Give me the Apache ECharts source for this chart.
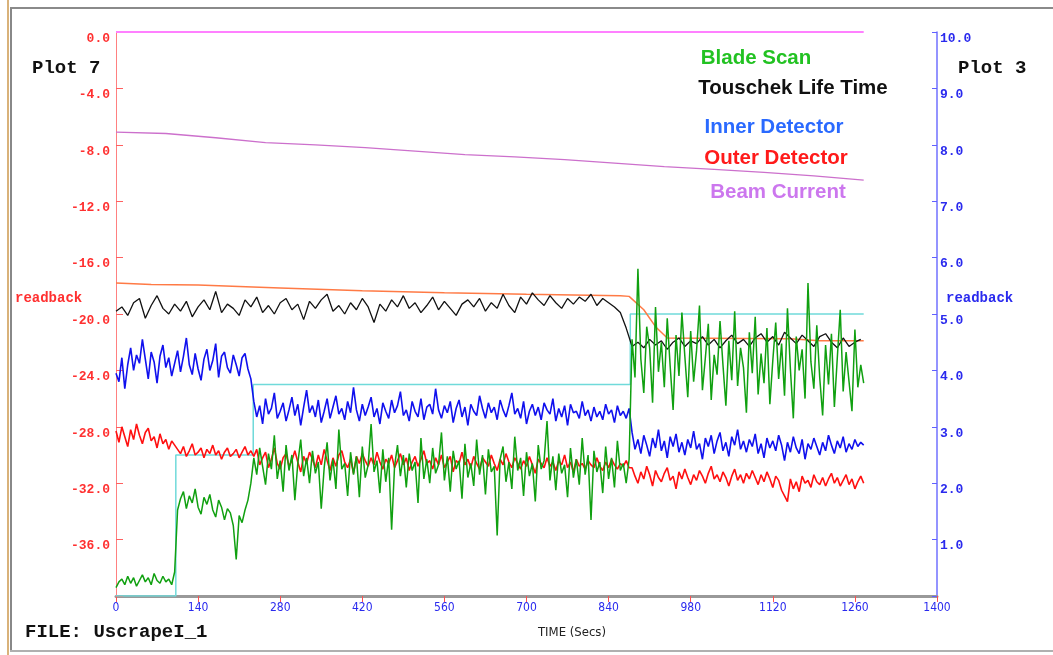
<!DOCTYPE html>
<html>
<head>
<meta charset="utf-8">
<script src="https://cdn.jsdelivr.net/npm/echarts@6/dist/echarts.min.js"></script>
<style>
html,body{margin:0;padding:0;background:#fff;}
#chart{width:1053px;height:655px;}
</style>
</head>
<body>
<div id="chart"></div>
<script>
// ---------- DATA ----------
const xTicks = [0,140,280,420,560,700,840,980,1120,1260,1400];
const leftTicks = [0,-4,-8,-12,-16,-20,-24,-28,-32,-36,-40];
const rightTicks = [0,1,2,3,4,5,6,7,8,9,10];

const detectorStep = 5;   // seconds between detector samples (t = 0 .. 1275)
const touschekStep = 10;  // seconds between Touschek samples (t = 0 .. 1270)

const innerDetector = [
-24.2,-24.8,-23.1,-25.3,-23.6,-22.4,-24.0,-22.9,-23.5,-21.8,-23.2,-24.6,-22.7,-23.4,-24.9,-23.0,-22.2,-23.8,-23.1,-24.4,
-23.5,-22.6,-24.1,-23.0,-21.7,-23.6,-24.3,-22.8,-23.9,-24.7,-23.2,-22.5,-24.0,-23.3,-22.1,-24.5,-23.0,-22.7,-23.8,-24.2,
-22.9,-23.6,-24.4,-23.1,-22.8,-23.9,-24.6,
-26.2,-27.3,-26.5,-27.8,-26.0,-27.1,-26.7,-25.6,-27.4,-26.9,
-26.3,-27.6,-26.8,-25.9,-27.2,-26.4,-27.9,-26.6,-25.4,-27.0,
-26.5,-27.3,-26.1,-27.7,-26.9,-26.0,-27.4,-26.6,-25.8,-27.1,
-26.7,-27.5,-26.2,-27.0,-25.2,-26.8,-27.6,-26.4,-27.2,-26.6,
-25.9,-27.3,-26.7,-27.8,-26.3,-26.9,-27.4,-26.1,-27.0,-26.5,
-25.5,-27.2,-26.8,-27.6,-26.2,-26.9,-27.3,-26.0,-27.5,-26.6,
-26.4,-27.1,-25.3,-26.8,-27.4,-26.5,-27.0,-26.2,-27.7,-26.7,
-26.1,-27.3,-26.6,-27.9,-26.4,-26.9,-27.2,-25.8,-26.7,-27.4,
-26.3,-27.0,-26.6,-27.5,-26.1,-26.8,-27.3,-26.5,-25.6,-27.1,
-26.7,-27.4,-26.2,-27.8,-26.9,-26.4,-27.2,-26.6,-27.5,-26.3,
-26.8,-27.1,-26.0,-27.6,-26.7,-27.3,-26.5,-27.9,-26.4,-27.0,
-26.9,-27.4,-26.2,-27.2,-26.8,-27.6,-26.6,-27.3,-26.9,-27.5,
-26.4,-27.1,-26.8,-27.7,-26.5,-27.2,-26.9,-27.4,-26.7,
-28.4,-29.6,-28.9,-29.9,-28.6,-29.3,-30.1,-28.8,-29.5,-28.2,
-29.7,-29.0,-30.2,-28.7,-29.4,-28.5,-29.8,-29.1,-30.0,-28.9,
-29.5,-28.3,-29.6,-29.2,-30.3,-28.8,-29.4,-28.6,-29.9,-29.0,
-28.4,-29.7,-29.1,-30.1,-28.7,-29.3,-28.2,-29.6,-29.0,-29.8,
-28.9,-29.4,-28.5,-29.9,-29.2,-30.2,-28.8,-29.5,-29.0,-29.7,
-28.6,-29.3,-30.4,-29.1,-29.8,-28.7,-29.5,-29.9,-28.9,-30.3,
-29.2,-29.6,-28.8,-29.4,-30.0,-29.1,-29.7,-28.6,-29.3,-29.9,
-29.0,-29.5,-28.7,-29.8,-29.2,-29.6,-28.9,-29.4,-29.1,-29.3
];

const outerDetector = [
-28.3,-29.1,-28.0,-28.7,-29.4,-28.2,-28.9,-27.8,-28.6,-29.2,-28.4,-28.1,-29.0,-28.7,-29.5,-28.5,-29.2,-28.9,-29.6,-29.0,-29.3,
-29.6,-29.9,-29.4,-30.1,-29.7,-29.2,-30.0,-29.8,-29.5,-30.2,-29.6,-29.9,-29.3,-30.0,-29.7,-30.3,-29.8,-29.5,-30.1,-29.9,-29.6,-30.2,-29.8,-29.4,-30.0,-29.7,
-30.1,-29.6,-30.7,-30.2,-29.8,-30.9,-30.3,-29.5,-30.6,-31.0,
-30.2,-29.9,-30.8,-30.4,-29.7,-30.5,-31.2,-30.1,-30.6,-29.8,
-30.3,-30.9,-30.0,-30.7,-29.6,-30.4,-31.1,-30.2,-30.8,-30.0,
-29.7,-30.5,-30.9,-30.3,-31.3,-30.1,-30.6,-29.9,-30.4,-30.8,
-30.2,-30.7,-29.8,-30.5,-31.0,-30.3,-30.6,-30.0,-30.9,-30.4,
-29.9,-30.7,-30.2,-31.1,-30.5,-30.1,-30.8,-30.3,-29.7,-30.6,
-30.4,-31.0,-30.2,-30.7,-30.0,-30.9,-30.5,-30.1,-31.2,-30.4,
-30.6,-29.8,-30.7,-30.3,-30.9,-30.1,-30.6,-31.0,-30.2,-30.5,
-30.8,-30.0,-30.6,-31.1,-30.3,-30.7,-29.9,-30.5,-30.9,-30.2,
-30.6,-31.0,-30.4,-30.8,-30.1,-30.7,-31.3,-30.3,-30.6,-30.9,
-30.2,-30.8,-30.5,-31.1,-30.4,-30.7,-30.0,-30.9,-30.5,-31.2,
-30.3,-30.8,-30.6,-31.0,-30.4,-30.7,-30.9,-30.2,-30.8,-31.1,
-30.5,-30.9,-30.3,-30.7,-31.0,-30.6,-30.8,-30.4,-30.9,
-30.9,-31.5,-32.0,-31.2,-31.7,-30.8,-31.4,-32.2,-31.1,-31.6,
-31.9,-31.3,-30.9,-31.8,-31.5,-32.4,-31.2,-31.7,-31.0,-31.6,
-32.1,-31.4,-31.8,-31.1,-31.5,-32.0,-31.3,-30.8,-31.7,-31.4,
-31.9,-31.2,-31.6,-32.2,-31.5,-31.0,-31.8,-31.4,-32.0,-31.3,
-31.7,-31.1,-31.6,-32.1,-31.4,-31.9,-31.2,-31.7,-32.3,-31.5,
-31.8,-32.5,-32.9,-33.3,-31.7,-32.4,-31.9,-32.6,-31.5,-32.0,
-31.8,-32.3,-31.4,-31.9,-32.1,-31.6,-32.2,-31.7,-31.3,-32.0,
-31.6,-32.2,-31.8,-31.4,-32.1,-31.7,-32.4,-31.9,-31.5,-32.0
];

const bladeScan = [
-39.4,-39.0,-38.8,-39.2,-38.6,-39.1,-38.7,-39.3,-38.9,-38.5,-39.0,-38.7,-39.2,-38.4,-38.9,-39.1,-38.6,-39.0,-38.8,-39.2,-38.3,
-33.9,-33.1,-32.6,-33.8,-32.9,-33.4,-32.4,-33.7,-34.2,-33.0,-33.5,-32.8,-33.9,-34.4,-33.2,-33.7,-34.6,-33.8,-34.1,-35.0,-37.4,-34.3,-34.8,-33.9,-33.2,-32.0,
-30.2,-31.4,-29.5,-30.8,-32.1,-29.9,-31.0,-28.6,-31.7,-30.4,
-32.6,-29.3,-31.1,-30.0,-33.2,-30.6,-28.9,-31.5,-30.2,-32.0,
-29.7,-31.3,-30.5,-33.8,-30.9,-29.1,-31.8,-30.3,-32.4,-28.2,
-31.0,-30.6,-32.9,-29.8,-31.4,-30.1,-33.0,-29.4,-31.6,-30.7,
-27.8,-31.2,-30.4,-32.7,-29.6,-31.9,-30.2,-35.3,-30.8,-29.3,
-31.5,-30.0,-32.3,-29.9,-31.1,-30.5,-33.4,-28.8,-31.7,-30.3,
-32.0,-29.5,-31.3,-30.7,-28.4,-31.8,-30.1,-32.6,-29.7,-31.0,
-30.4,-33.1,-29.2,-31.6,-30.6,-32.2,-28.9,-31.4,-30.0,-32.8,
-29.6,-31.2,-30.8,-35.7,-30.3,-29.4,-31.9,-30.5,-32.4,-28.7,
-31.1,-30.2,-32.9,-29.8,-31.5,-30.6,-33.3,-29.3,-31.0,-30.4,
-27.6,-31.8,-30.1,-32.5,-29.9,-31.3,-30.7,-33.0,-29.5,-31.6,
-30.3,-32.1,-28.8,-31.4,-30.0,-34.6,-29.7,-31.2,-30.5,-32.7,
-29.4,-31.7,-30.2,-32.3,-29.0,-31.1,-30.6,-32.0,-30.3,
-21.8,-24.5,-16.8,-23.2,-25.6,-20.9,-22.4,-26.3,-19.5,-24.1,
-22.0,-25.2,-20.3,-23.7,-26.8,-21.5,-24.4,-19.9,-23.0,-25.9,
-21.2,-24.8,-22.6,-19.4,-25.4,-23.1,-20.7,-26.1,-22.9,-24.3,
-20.5,-23.6,-26.5,-21.9,-24.7,-19.8,-25.1,-22.4,-23.8,-27.0,
-21.3,-24.2,-20.2,-25.7,-22.8,-24.9,-21.0,-26.4,-23.3,-20.6,
-24.6,-22.1,-25.8,-19.6,-23.9,-27.4,-21.6,-24.0,-22.5,-26.0,
-17.8,-23.4,-25.3,-20.8,-24.5,-27.2,-22.2,-25.0,-21.4,-26.6,
-23.1,-19.7,-25.5,-22.7,-24.8,-26.9,-21.1,-25.2,-23.6,-24.9
];

const touschek = [
-19.8,-19.5,-20.1,-19.2,-18.9,-20.3,-19.4,-18.7,-19.6,-20.0,
-19.3,-19.8,-19.1,-20.2,-19.5,-19.0,-19.7,-18.4,-19.9,-19.3,
-19.6,-20.1,-19.0,-19.5,-18.8,-19.9,-19.4,-20.0,-19.2,-18.9,
-19.7,-19.3,-20.4,-19.1,-19.6,-19.0,-18.6,-19.8,-19.4,-20.0,
-19.2,-19.7,-18.9,-19.5,-20.6,-19.3,-19.8,-19.0,-19.5,-18.7,
-19.6,-19.2,-19.9,-19.4,-18.8,-19.7,-19.1,-19.6,-20.1,-19.3,
-19.0,-19.5,-18.9,-19.8,-19.2,-19.6,-18.6,-19.4,-19.9,-18.8,
-19.3,-18.5,-19.0,-19.4,-18.7,-19.2,-19.6,-18.9,-19.3,-18.8,
-19.1,-18.6,-19.4,-18.9,-19.2,-19.5,-19.9,
-21.0,-22.3,-22.0,
-22.4,-21.8,-22.2,-21.9,-22.5,-22.0,-21.7,-22.3,-21.9,-22.1,
-21.6,-22.2,-21.8,-22.4,-21.9,-21.5,-22.1,-21.8,-22.3,-21.7,
-21.4,-22.0,-21.6,-22.2,-21.3,-21.7,-22.1,-21.5,-21.9,-22.3,
-21.6,-21.4,-22.0,-22.4,-21.7,-22.3,-22.0,-21.8
];

const orangeTimes  = [0, 60, 140, 280, 420, 560, 700, 860, 875, 900, 920, 940, 1150, 1200, 1275];
const orangeValues = [-17.8,-17.9,-17.95,-18.15,-18.35,-18.5,-18.6,-18.7,-18.75,-19.7,-20.9,-21.7,-21.75,-21.9,-21.9];

const beamTimes  = [0,85,170,255,340,425,510,595,680,765,850,935,1020,1105,1190,1275];
const beamValues = [-7.1,-7.2,-7.5,-7.85,-8.0,-8.2,-8.45,-8.7,-8.85,-9.05,-9.3,-9.55,-9.75,-9.95,-10.2,-10.5];

const readbackTimes  = [0, 102, 234, 877, 1275];
const readbackValues = [-40, -30, -25, -20, -20];

const topTimes  = [0, 1275];
const topValues = [0, 0];

const legendNames = ['Blade Scan','Touschek Life Time','Inner Detector','Outer Detector','Beam Current'];

// ---------- BUILD ----------
function pairs(step, vals){ return vals.map((v,i)=>[i*step, v]); }
function zip(ts, vs){ return ts.map((t,i)=>[t, vs[i]]); }

const chart = echarts.init(document.getElementById('chart'), null, {renderer:'canvas'});
const mono = "'Liberation Mono','DejaVu Sans Mono',monospace";
const narrow = "'DejaVu Sans Condensed','Liberation Sans Narrow','Liberation Sans',sans-serif";

function lineSeries(name, data, color, width, extra){
  return Object.assign({
    name, type:'line', data, showSymbol:false, symbol:'none', animation:false,
    lineStyle:{color, width}, itemStyle:{color}, z:2, silent:true
  }, extra||{});
}

const legendColors = ['#22c222','#111111','#2a6aff','#ff1a1a','#cc77ee'];
const legendY = [58, 88, 127, 158, 192];
const legendX = [756, 793, 774, 776, 778];

const graphics = [
  {type:'line', shape:{x1:10,y1:8,x2:1053,y2:8}, style:{stroke:'#8a8a8a',lineWidth:2}},
  {type:'line', shape:{x1:8,y1:0,x2:8,y2:655}, style:{stroke:'#d9b27a',lineWidth:2}},
  {type:'line', shape:{x1:11,y1:8,x2:11,y2:652}, style:{stroke:'#888888',lineWidth:2}},
  {type:'line', shape:{x1:10,y1:651,x2:1053,y2:651}, style:{stroke:'#b0b0b0',lineWidth:2}},
  {type:'text', left:32, top:59, style:{text:'Plot 7', font:"bold 19px "+mono, fill:'#111'}},
  {type:'text', left:958, top:59, style:{text:'Plot 3', font:"bold 19px "+mono, fill:'#111'}},
  {type:'text', left:15, top:291, style:{text:'readback', font:"bold 14px "+mono, fill:'#ff3030'}},
  {type:'text', left:946, top:291, style:{text:'readback', font:"bold 14px "+mono, fill:'#2a2aee'}},
  {type:'text', left:25, top:623, style:{text:'FILE: UscrapeI_1', font:"bold 19px "+mono, fill:'#111'}},
  {type:'text', x:572, y:633, style:{text:'TIME (Secs)', font:"13px "+narrow, fill:'#222', textAlign:'center', textVerticalAlign:'middle'}}
];
legendNames.forEach((n,i)=>{
  graphics.push({type:'text', x:legendX[i], y:legendY[i], style:{text:n, font:"bold 20.5px 'Liberation Sans',Arial,sans-serif", fill:legendColors[i], textAlign:'center', textVerticalAlign:'middle'}});
});

const option = {
  animation:false,
  backgroundColor:'#ffffff',
  grid:{left:116, right:116, top:32, bottom:59, containLabel:false},
  xAxis:{
    type:'value', min:xTicks[0], max:xTicks[xTicks.length-1], interval:140,
    axisLine:{show:true, onZero:false, lineStyle:{color:'#999999', width:3}},
    axisTick:{show:true, inside:false, length:6, lineStyle:{color:'#ff5050', width:1}},
    axisLabel:{color:'#2a2aee', fontFamily:narrow, fontSize:12, margin:6, formatter:v => String(v)},
    splitLine:{show:false}
  },
  yAxis:[
    {
      type:'value', position:'left', min:-40, max:0, interval:4,
      axisLine:{show:true, onZero:false, lineStyle:{color:'#ff8080', width:1}},
      axisTick:{show:true, inside:true, length:7, lineStyle:{color:'#ff6060'}},
      axisLabel:{color:'#ff3030', fontFamily:mono, fontWeight:'bold', fontSize:13, margin:6, verticalAlign:'top',
        formatter:v => v === leftTicks[leftTicks.length-1] ? '' : v.toFixed(1)},
      splitLine:{show:false}
    },
    {
      type:'value', position:'right', min:0, max:10, interval:1,
      axisLine:{show:true, onZero:false, lineStyle:{color:'#7070ff', width:1.5}},
      axisTick:{show:true, inside:true, length:5, lineStyle:{color:'#6060ff'}},
      axisLabel:{color:'#2a2aee', fontFamily:mono, fontWeight:'bold', fontSize:13, margin:3, verticalAlign:'top',
        formatter:v => v === rightTicks[0] ? '' : v.toFixed(1)},
      splitLine:{show:false}
    }
  ],
  series:[
    lineSeries('Top', zip(topTimes, topValues), '#ff80ff', 2),
    lineSeries('Readback', zip(readbackTimes, readbackValues), '#70dada', 1.5, {step:'end'}),
    lineSeries('Beam Current', zip(beamTimes, beamValues), '#cc70cc', 1.3),
    lineSeries('Orange', zip(orangeTimes, orangeValues), '#ff7a45', 1.5),
    lineSeries('Touschek Life Time', pairs(touschekStep, touschek), '#111111', 1.3),
    lineSeries('Inner Detector', pairs(detectorStep, innerDetector), '#1010ee', 1.6),
    lineSeries('Outer Detector', pairs(detectorStep, outerDetector), '#ff1010', 1.6),
    lineSeries('Blade Scan', pairs(detectorStep, bladeScan), '#10a010', 1.5)
  ],
  graphic: graphics
};
chart.setOption(option);
</script>
</body>
</html>
